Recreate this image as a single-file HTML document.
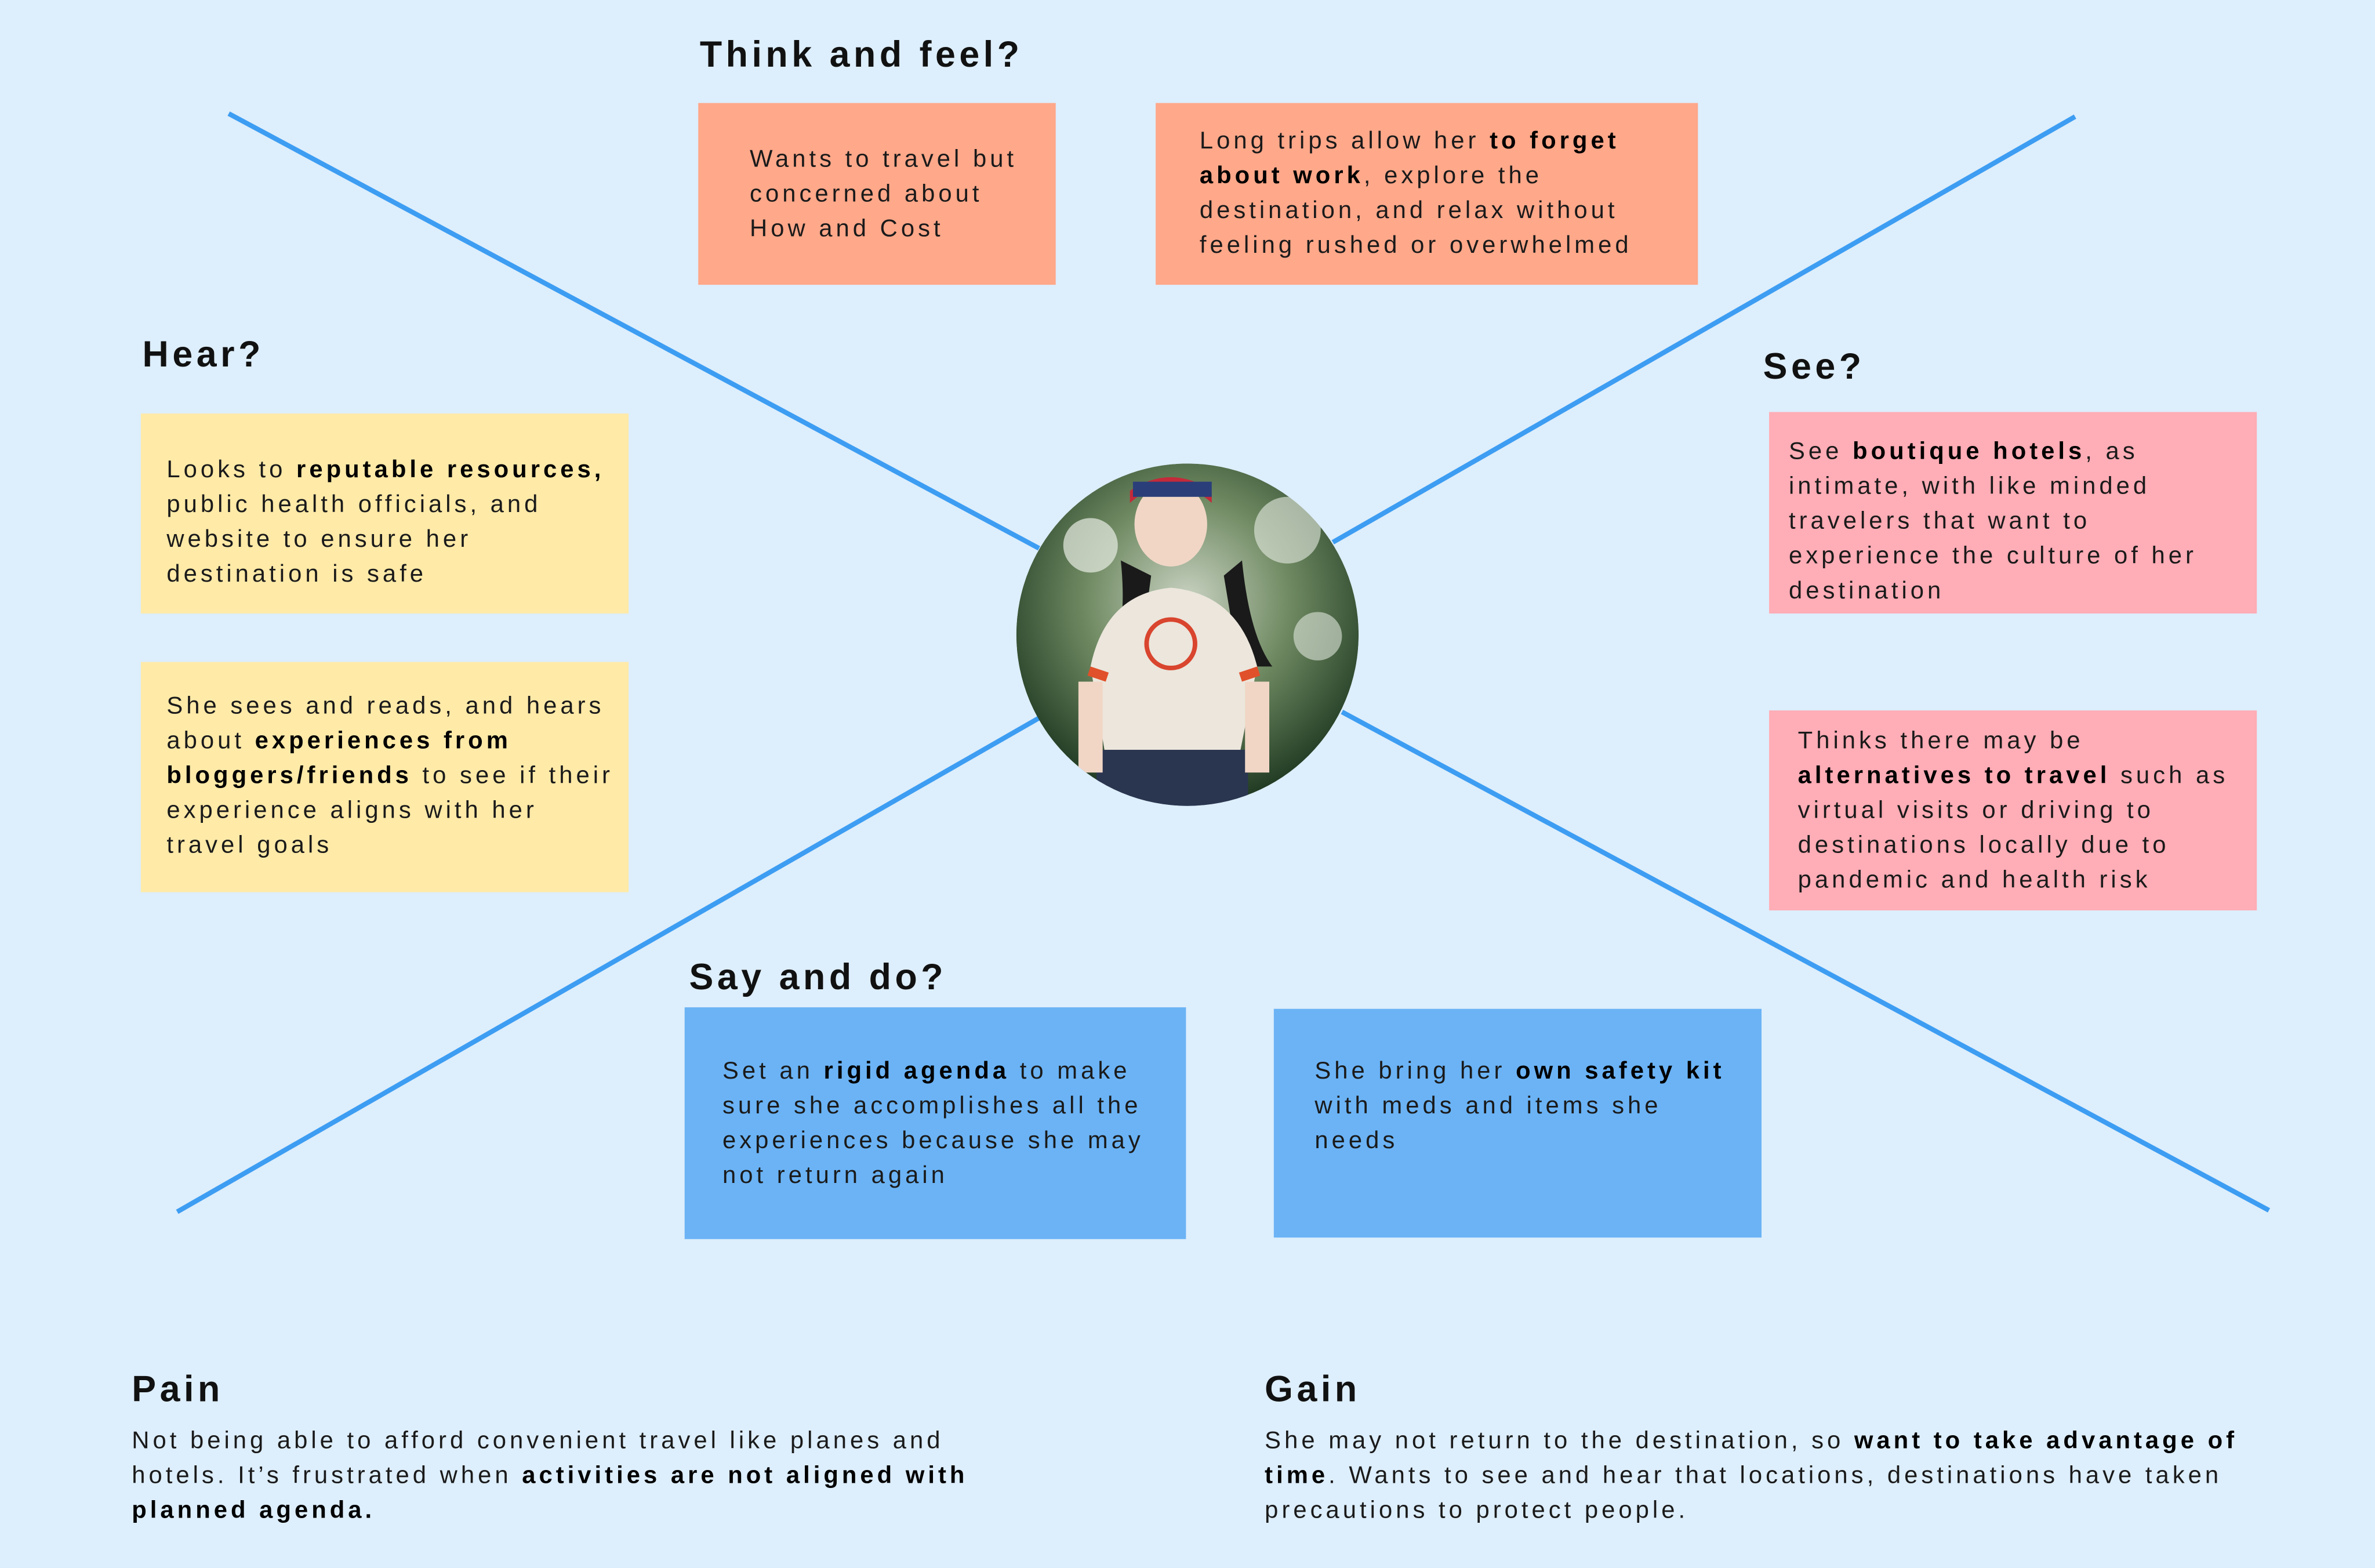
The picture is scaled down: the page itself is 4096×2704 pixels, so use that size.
<!DOCTYPE html>
<html><head><meta charset="utf-8">
<style>
html,body{margin:0;padding:0;}
body{width:4096px;height:2703px;overflow:hidden;background:#ddeefc;}
#c{position:absolute;left:0;top:0;width:1568px;height:1035px;transform:scale(2.6122);transform-origin:0 0;background:#ddeefc;font-family:"Liberation Sans",sans-serif;color:#1a1a1a;}
.b{position:absolute;}
.t{position:absolute;font-size:16px;line-height:23px;letter-spacing:2.3px;white-space:nowrap;}
.h{position:absolute;font-size:24px;font-weight:bold;letter-spacing:2.5px;line-height:30px;white-space:nowrap;color:#111;}
b{font-weight:bold;color:#000;}
</style></head><body>
<div id="c">
<svg class="b" style="left:0;top:0" width="1568" height="1035">
<g stroke="#3d9df2" stroke-width="3.2" fill="none">
<line x1="151" y1="75" x2="686" y2="362"/>
<line x1="1370" y1="77" x2="880" y2="358"/>
<line x1="117" y1="800" x2="686" y2="474"/>
<line x1="886" y1="470" x2="1498" y2="799"/>
</g>
<defs>
<radialGradient id="bg" cx="50%" cy="40%" r="60%">
<stop offset="0" stop-color="#c9d2c2"/><stop offset="0.5" stop-color="#6f8a62"/><stop offset="1" stop-color="#1f3a22"/>
</radialGradient>
<clipPath id="cp"><circle cx="784" cy="419" r="113"/></clipPath>
</defs>
<g clip-path="url(#cp)">
<circle cx="784" cy="419" r="113" fill="url(#bg)"/>
<circle cx="720" cy="360" r="18" fill="#e8ece4" opacity="0.7"/>
<circle cx="850" cy="350" r="22" fill="#e8ece4" opacity="0.6"/>
<circle cx="870" cy="420" r="16" fill="#dfe6dc" opacity="0.6"/>
<path d="M740 370 Q745 420 730 440 L752 440 L760 380Z" fill="#1a1a1a"/>
<path d="M820 370 Q825 420 840 440 L818 440 L808 380Z" fill="#1a1a1a"/>
<ellipse cx="773" cy="346" rx="24" ry="28" fill="#f1d6c6"/>
<path d="M746 332 Q773 308 800 332 L800 324 Q773 306 746 324Z" fill="#c42a3a"/>
<rect x="748" y="318" width="52" height="10" fill="#2a3f7a"/>
<path d="M720 440 Q730 392 773 388 Q818 392 830 440 L818 500 L730 500Z" fill="#ece6dc"/>
<path d="M720 440 L732 444 L730 450 L718 446Z" fill="#e0502a"/>
<path d="M830 440 L818 444 L820 450 L832 446Z" fill="#e0502a"/>
<circle cx="773" cy="425" r="16" fill="none" stroke="#d9452e" stroke-width="3"/>
<rect x="724" y="495" width="100" height="40" fill="#2a3550"/>
<rect x="712" y="450" width="16" height="60" fill="#f1d6c6"/>
<rect x="822" y="450" width="16" height="60" fill="#f1d6c6"/>
</g>
</svg>

<div class="h" style="left:462px;top:22px">Think and feel?</div>
<div class="h" style="left:94px;top:220px">Hear?</div>
<div class="h" style="left:1164px;top:228px">See?</div>
<div class="h" style="left:455px;top:631px">Say and do?</div>
<div class="h" style="left:87px;top:903px">Pain</div>
<div class="h" style="left:835px;top:903px">Gain</div>

<div class="b" style="left:461px;top:68px;width:236px;height:120px;background:#ffa88a"></div>
<div class="t" style="left:495px;top:94px">Wants to travel but<br>concerned about<br>How and Cost</div>

<div class="b" style="left:763px;top:68px;width:358px;height:120px;background:#ffa88a"></div>
<div class="t" style="left:792px;top:82px">Long trips allow her <b>to forget</b><br><b>about work</b>, explore the<br>destination, and relax without<br>feeling rushed or overwhelmed</div>

<div class="b" style="left:93px;top:273px;width:322px;height:132px;background:#ffeaa8"></div>
<div class="t" style="left:110px;top:299px">Looks to <b>reputable resources,</b><br>public health officials, and<br>website to ensure her<br>destination is safe</div>

<div class="b" style="left:93px;top:437px;width:322px;height:152px;background:#ffeaa8"></div>
<div class="t" style="left:110px;top:455px">She sees and reads, and hears<br>about <b>experiences from</b><br><b>bloggers/friends</b> to see if their<br>experience aligns with her<br>travel goals</div>

<div class="b" style="left:1168px;top:272px;width:322px;height:133px;background:#ffadb6"></div>
<div class="t" style="left:1181px;top:287px">See <b>boutique hotels</b>, as<br>intimate, with like minded<br>travelers that want to<br>experience the culture of her<br>destination</div>

<div class="b" style="left:1168px;top:469px;width:322px;height:132px;background:#ffadb6"></div>
<div class="t" style="left:1187px;top:478px">Thinks there may be<br><b>alternatives to travel</b> such as<br>virtual visits or driving to<br>destinations locally due to<br>pandemic and health risk</div>

<div class="b" style="left:452px;top:665px;width:331px;height:153px;background:#6bb3f5"></div>
<div class="t" style="left:477px;top:696px">Set an <b>rigid agenda</b> to make<br>sure she accomplishes all the<br>experiences because she may<br>not return again</div>

<div class="b" style="left:841px;top:666px;width:322px;height:151px;background:#6bb3f5"></div>
<div class="t" style="left:868px;top:696px">She bring her <b>own safety kit</b><br>with meds and items she<br>needs</div>

<div class="t" style="left:87px;top:940px">Not being able to afford convenient travel like planes and<br>hotels. It’s frustrated when <b>activities are not aligned with</b><br><b>planned agenda.</b></div>
<div class="t" style="left:835px;top:940px">She may not return to the destination, so <b>want to take advantage of</b><br><b>time</b>. Wants to see and hear that locations, destinations have taken<br>precautions to protect people.</div>
</div>
</body></html>
